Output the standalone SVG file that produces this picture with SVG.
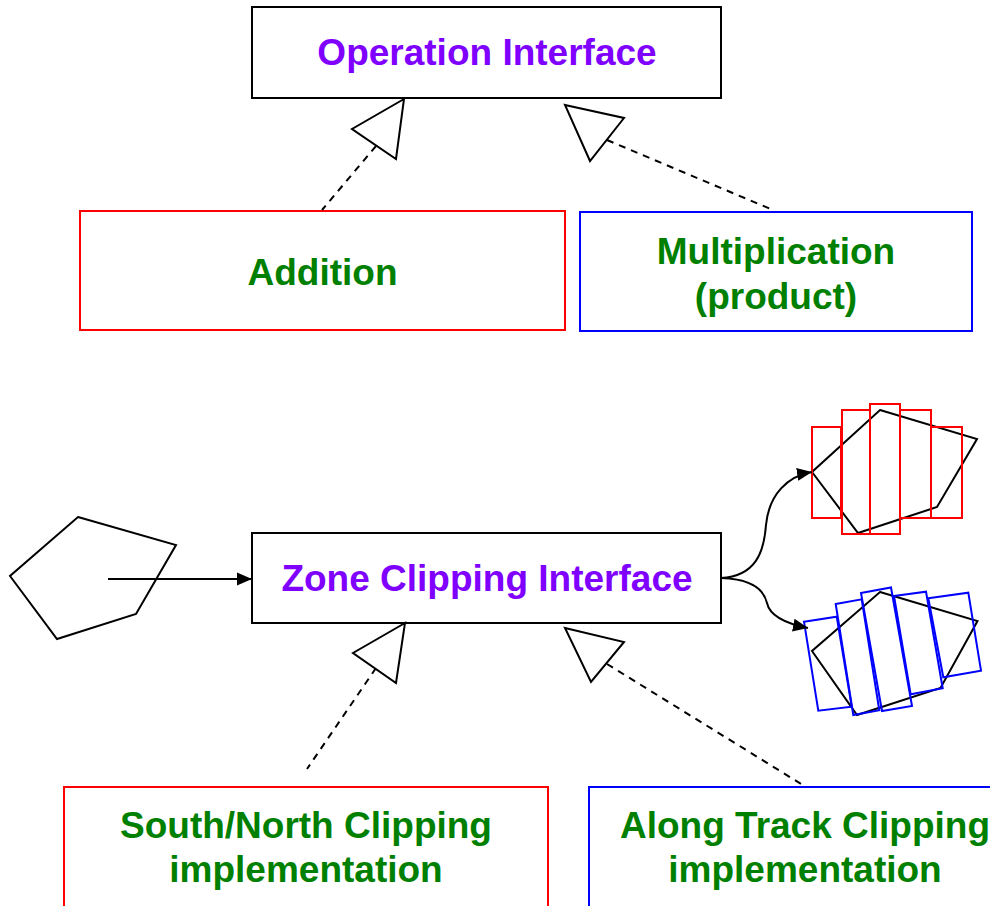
<svg xmlns="http://www.w3.org/2000/svg" width="990" height="906" viewBox="0 0 990 906">
  <defs>
    <marker id="arrow" viewBox="0 0 10 10" refX="10" refY="5" markerWidth="15" markerHeight="15" markerUnits="userSpaceOnUse" orient="auto">
      <path d="M0,0.7 L10,5 L0,9.3 Z" fill="#000"/>
    </marker>
    <style>
      .box { fill: #fff; stroke-width: 2; }
      .black { stroke: #000; }
      .red { stroke: #ff0000; }
      .blue { stroke: #0000ff; }
      .lbl { font-family: "Liberation Sans", Arial, sans-serif; font-weight: bold; font-size: 37px; text-anchor: middle; }
      .iface { fill: #8000ff; }
      .impl { fill: #008000; }
      .tri { fill: #fff; stroke: #000; stroke-width: 2; stroke-linejoin: miter; }
      .dash { fill: none; stroke: #000; stroke-width: 2; stroke-dasharray: 7 6; }
      .edge { fill: none; stroke: #000; stroke-width: 2; }
      .shape { fill: none; stroke: #000; stroke-width: 2; stroke-linejoin: miter; }
      .strip { fill: none; stroke-width: 2; }
    </style>
  </defs>

  <!-- interface boxes -->
  <g id="operation-interface">
    <rect class="box black" x="252" y="7" width="469" height="91"/>
    <text class="lbl iface" x="487" y="64.5">Operation Interface</text>
  </g>

  <g id="addition">
    <rect class="box red" x="80" y="211" width="485" height="119"/>
    <text class="lbl impl" x="322.5" y="285">Addition</text>
  </g>

  <g id="multiplication">
    <rect class="box blue" x="580" y="212" width="392" height="119"/>
    <text class="lbl impl" x="776" y="263.5">Multiplication</text>
    <text class="lbl impl" x="776" y="308.5">(product)</text>
  </g>

  <g id="zone-clipping-interface">
    <rect class="box black" x="252" y="533" width="469" height="90"/>
    <text class="lbl iface" x="487" y="590.5">Zone Clipping Interface</text>
  </g>

  <g id="south-north-clipping">
    <rect class="box red" x="64" y="787" width="484" height="130"/>
    <text class="lbl impl" x="306" y="837.5">South/North Clipping</text>
    <text class="lbl impl" x="306" y="881.5">implementation</text>
  </g>

  <g id="along-track-clipping">
    <rect class="box blue" x="589" y="787" width="440" height="130"/>
    <text class="lbl impl" x="805" y="837.5">Along Track Clipping</text>
    <text class="lbl impl" x="805" y="881.5">implementation</text>
  </g>

  <!-- input zone polygon -->
  <g id="input-zone">
    <polygon class="shape" points="78,517 176,545 136,614 57,639 10,576"/>
  </g>

  <!-- zone split into south/north strips -->
  <g id="south-north-result">
    <polygon class="shape" points="880,410 977,439 937,507 858,533 812,472"/>
    <rect class="strip red" x="812" y="427" width="29" height="91"/>
    <rect class="strip red" x="842" y="410" width="28" height="124"/>
    <rect class="strip red" x="870" y="404" width="30" height="130"/>
    <rect class="strip red" x="900" y="410" width="31" height="108"/>
    <rect class="strip red" x="931" y="427" width="31" height="91"/>
  </g>

  <!-- zone split into along-track strips -->
  <g id="along-track-result">
    <polygon class="shape" points="880,592 977.5,621 940.5,688 857,715 812,651"/>
    <polygon class="strip blue" points="804,621.7 836.7,616.7 851.7,706.7 818.3,710.7"/>
    <polygon class="strip blue" points="835.7,604 861.7,599.3 879.3,710.3 853.3,715"/>
    <polygon class="strip blue" points="861,593 891,587.5 912,706 882,711"/>
    <polygon class="strip blue" points="894,596 926,591.7 942.7,688.3 910.7,694.3"/>
    <polygon class="strip blue" points="928.3,598.3 968.3,592.7 981,670.7 943.3,677.3"/>
  </g>

  <!-- connectors -->
  <g id="connectors">
    <!-- realization links -->
    <line class="dash" x1="376" y1="146" x2="322" y2="210"/>
    <polygon class="tri" points="404,99 352,129 396,159"/>
    <line class="dash" x1="607" y1="140" x2="773" y2="210"/>
    <polygon class="tri" points="565,105 624,118 590,161"/>
    <line class="dash" x1="376" y1="668" x2="307" y2="769"/>
    <polygon class="tri" points="405,623 353,653 396,683"/>
    <line class="dash" x1="607" y1="664" x2="806" y2="787"/>
    <polygon class="tri" points="565,628 624,642 591,682"/>

    <!-- data flow -->
    <line class="edge" x1="108" y1="579" x2="252" y2="579" marker-end="url(#arrow)"/>
    <path class="edge" d="M721,578 C756,576 764,552 766,525 C769,494 788,476 812,472" marker-end="url(#arrow)"/>
    <path class="edge" d="M721,578 C752,579 764,590 767,603 C770,617 788,624 808,628" marker-end="url(#arrow)"/>
  </g>
</svg>
